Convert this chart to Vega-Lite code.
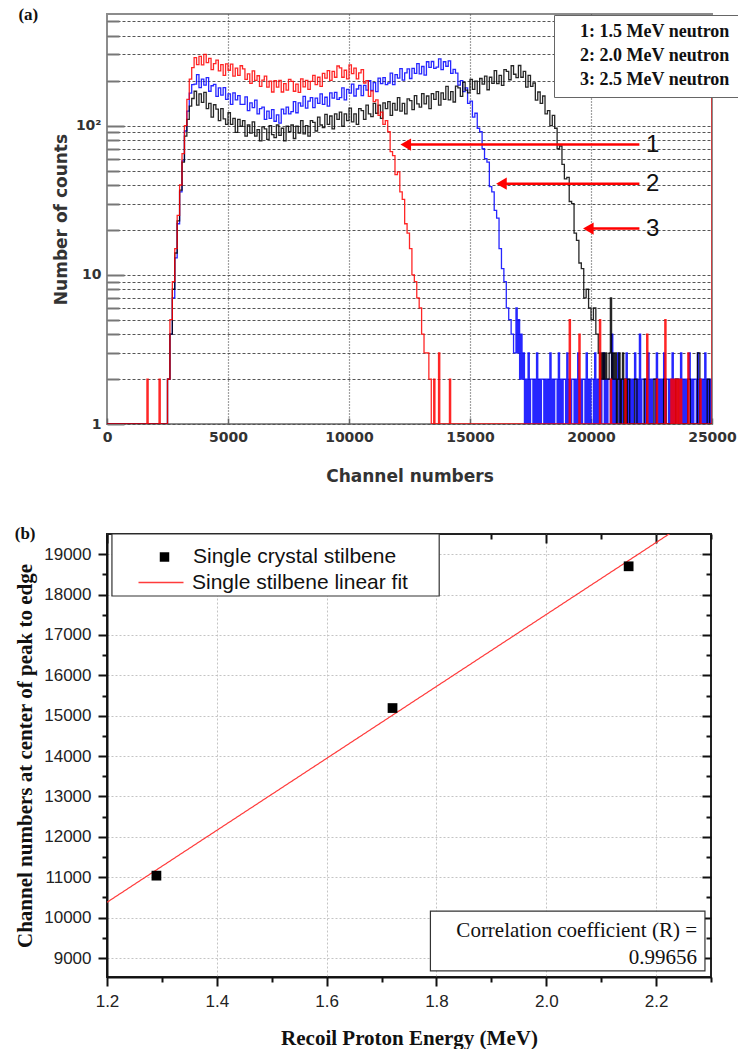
{
"$schema":"https://vega.github.io/schema/vega-lite/v6.json",
"background":"white",
"padding":{"left":13,"top":5,"right":0,"bottom":0},
"spacing":39,
"resolve":{"scale":{"color":"independent","strokeDash":"independent"},"legend":{"color":"independent","strokeDash":"independent"}},
"config":{"axis":{"labelOverlap":false,"labelFlush":false}},
"datasets":{
"spec":[
{"s":"2","c":0,"n":1},{"s":"2","c":2400,"n":1},{"s":"2","c":2500,"n":2},{"s":"2","c":2600,"n":4},{"s":"2","c":2700,"n":7},{"s":"2","c":2800,"n":13},{"s":"2","c":2900,"n":22},{"s":"2","c":3000,"n":36},{"s":"2","c":3100,"n":58},{"s":"2","c":3200,"n":92},{"s":"2","c":3300,"n":125},{"s":"2","c":3400,"n":165},{"s":"2","c":3500,"n":188},
{"s":"2","c":3600,"n":190},{"s":"2","c":3700,"n":220},{"s":"2","c":3800,"n":180},{"s":"2","c":3900,"n":205},{"s":"2","c":4000,"n":187},{"s":"2","c":4100,"n":210},{"s":"2","c":4200,"n":170},{"s":"2","c":4300,"n":185},{"s":"2","c":4400,"n":189},{"s":"2","c":4500,"n":157},{"s":"2","c":4600,"n":179},{"s":"2","c":4700,"n":160},{"s":"2","c":4800,"n":180},{"s":"2","c":4900,"n":150},{"s":"2","c":5000,"n":163},{"s":"2","c":5100,"n":139},{"s":"2","c":5200,"n":166},{"s":"2","c":5300,"n":149},{"s":"2","c":5400,"n":159},{"s":"2","c":5500,"n":139},{"s":"2","c":5600,"n":139},{"s":"2","c":5700,"n":156},{"s":"2","c":5800,"n":126},{"s":"2","c":5900,"n":142},{"s":"2","c":6000,"n":132},{"s":"2","c":6100,"n":148},{"s":"2","c":6200,"n":120},{"s":"2","c":6300,"n":130},{"s":"2","c":6400,"n":133},{"s":"2","c":6500,"n":110},{"s":"2","c":6600,"n":125},{"s":"2","c":6700,"n":112},{"s":"2","c":6800,"n":128},{"s":"2","c":6900,"n":107},{"s":"2","c":7000,"n":118},{"s":"2","c":7100,"n":104},{"s":"2","c":7200,"n":129},{"s":"2","c":7300,"n":120},{"s":"2","c":7400,"n":133},{"s":"2","c":7500,"n":120},{"s":"2","c":7600,"n":124},{"s":"2","c":7700,"n":145},{"s":"2","c":7800,"n":122},{"s":"2","c":7900,"n":142},{"s":"2","c":8000,"n":135},{"s":"2","c":8100,"n":157},{"s":"2","c":8200,"n":131},{"s":"2","c":8300,"n":146},{"s":"2","c":8400,"n":154},{"s":"2","c":8500,"n":132},{"s":"2","c":8600,"n":153},{"s":"2","c":8700,"n":141},{"s":"2","c":8800,"n":163},{"s":"2","c":8900,"n":139},{"s":"2","c":9000,"n":155},{"s":"2","c":9100,"n":135},{"s":"2","c":9200,"n":166},{"s":"2","c":9300,"n":153},{"s":"2","c":9400,"n":167},{"s":"2","c":9500,"n":150},{"s":"2","c":9600,"n":154},{"s":"2","c":9700,"n":179},{"s":"2","c":9800,"n":149},{"s":"2","c":9900,"n":175},{"s":"2","c":10000,"n":165},{"s":"2","c":10100,"n":190},{"s":"2","c":10200,"n":158},{"s":"2","c":10300,"n":176},{"s":"2","c":10400,"n":186},{"s":"2","c":10500,"n":159},{"s":"2","c":10600,"n":186},{"s":"2","c":10700,"n":173},{"s":"2","c":10800,"n":200},{"s":"2","c":10900,"n":172},{"s":"2","c":11000,"n":194},{"s":"2","c":11100,"n":169},{"s":"2","c":11200,"n":208},{"s":"2","c":11300,"n":191},{"s":"2","c":11400,"n":210},{"s":"2","c":11500,"n":188},{"s":"2","c":11600,"n":193},{"s":"2","c":11700,"n":225},{"s":"2","c":11800,"n":188},{"s":"2","c":11900,"n":220},{"s":"2","c":12000,"n":208},{"s":"2","c":12100,"n":241},{"s":"2","c":12200,"n":202},{"s":"2","c":12300,"n":226},{"s":"2","c":12400,"n":240},{"s":"2","c":12500,"n":207},{"s":"2","c":12600,"n":242},{"s":"2","c":12700,"n":224},{"s":"2","c":12800,"n":260},{"s":"2","c":12900,"n":222},{"s":"2","c":13000,"n":249},{"s":"2","c":13100,"n":218},{"s":"2","c":13200,"n":268},{"s":"2","c":13300,"n":246},{"s":"2","c":13400,"n":269},{"s":"2","c":13500,"n":242},{"s":"2","c":13600,"n":247},{"s":"2","c":13700,"n":280},{"s":"2","c":13800,"n":237},{"s":"2","c":13900,"n":268},{"s":"2","c":14000,"n":250},{"s":"2","c":14100,"n":272},{"s":"2","c":14200,"n":224},{"s":"2","c":14300,"n":238},{"s":"2","c":14400,"n":225},{"s":"2","c":14500,"n":187},{"s":"2","c":14600,"n":200},{"s":"2","c":14700,"n":169},{"s":"2","c":14800,"n":179},{"s":"2","c":14900,"n":141},{"s":"2","c":15000,"n":146},{"s":"2","c":15100,"n":114},{"s":"2","c":15200,"n":121},{"s":"2","c":15300,"n":96},{"s":"2","c":15400,"n":91},{"s":"2","c":15500,"n":70},{"s":"2","c":15600,"n":60},{"s":"2","c":15700,"n":57},{"s":"2","c":15800,"n":39},{"s":"2","c":15900,"n":36},{"s":"2","c":16000,"n":27},{"s":"2","c":16100,"n":24},{"s":"2","c":16200,"n":15},{"s":"2","c":16300,"n":11},{"s":"2","c":16400,"n":9},{"s":"2","c":16500,"n":6},{"s":"2","c":16600,"n":5},{"s":"2","c":16700,"n":4},{"s":"2","c":16800,"n":3},
{"s":"2","c":16900,"n":6},{"s":"2","c":16950,"n":3},{"s":"2","c":17000,"n":5},{"s":"2","c":17050,"n":2},{"s":"2","c":17100,"n":4},{"s":"2","c":17150,"n":2},{"s":"2","c":17200,"n":3},{"s":"2","c":17250,"n":1},{"s":"2","c":17300,"n":2},{"s":"2","c":17350,"n":1},{"s":"2","c":17400,"n":3},{"s":"2","c":17450,"n":1},{"s":"2","c":17500,"n":2},{"s":"2","c":17550,"n":2},{"s":"2","c":17600,"n":1},{"s":"2","c":17650,"n":2},{"s":"2","c":17700,"n":1},{"s":"2","c":17750,"n":3},{"s":"2","c":17800,"n":1},{"s":"2","c":17850,"n":2},
{"s":"2","c":17900,"n":1},{"s":"2","c":17950,"n":2},{"s":"2","c":18000,"n":2},{"s":"2","c":18050,"n":1},{"s":"2","c":18100,"n":2},{"s":"2","c":18150,"n":1},{"s":"2","c":18200,"n":2},{"s":"2","c":18250,"n":1},{"s":"2","c":18300,"n":3},{"s":"2","c":18350,"n":1},{"s":"2","c":18400,"n":2},{"s":"2","c":18450,"n":1},{"s":"2","c":18500,"n":2},{"s":"2","c":18550,"n":2},{"s":"2","c":18600,"n":1},{"s":"2","c":18650,"n":3},{"s":"2","c":18700,"n":1},{"s":"2","c":18750,"n":2},{"s":"2","c":18800,"n":1},{"s":"2","c":18850,"n":2},
{"s":"2","c":18900,"n":2},{"s":"2","c":18950,"n":1},{"s":"2","c":19000,"n":3},{"s":"2","c":19050,"n":1},{"s":"2","c":19100,"n":2},{"s":"2","c":19150,"n":1},{"s":"2","c":19200,"n":2},{"s":"2","c":19250,"n":2},{"s":"2","c":19300,"n":1},{"s":"2","c":19350,"n":2},{"s":"2","c":19400,"n":1},{"s":"2","c":19450,"n":3},{"s":"2","c":19500,"n":1},{"s":"2","c":19550,"n":2},{"s":"2","c":19600,"n":1},{"s":"2","c":19650,"n":2},{"s":"2","c":19700,"n":2},{"s":"2","c":19750,"n":1},{"s":"2","c":19800,"n":3},{"s":"2","c":19850,"n":1},
{"s":"2","c":19900,"n":2},{"s":"2","c":19950,"n":1},{"s":"2","c":20000,"n":2},{"s":"2","c":20050,"n":2},{"s":"2","c":20100,"n":1},{"s":"2","c":20150,"n":3},{"s":"2","c":20200,"n":1},{"s":"2","c":20250,"n":2},{"s":"2","c":20300,"n":1},{"s":"2","c":20350,"n":2},{"s":"2","c":20400,"n":1},{"s":"2","c":20450,"n":2},{"s":"2","c":20500,"n":3},{"s":"2","c":20550,"n":1},{"s":"2","c":20600,"n":2},{"s":"2","c":20650,"n":1},{"s":"2","c":20700,"n":2},{"s":"2","c":20750,"n":2},{"s":"2","c":20800,"n":1},{"s":"2","c":20850,"n":4},
{"s":"2","c":20900,"n":1},{"s":"2","c":20950,"n":2},{"s":"2","c":21000,"n":1},{"s":"2","c":21050,"n":2},{"s":"2","c":21100,"n":3},{"s":"2","c":21150,"n":1},{"s":"2","c":21200,"n":2},{"s":"2","c":21250,"n":1},{"s":"2","c":21300,"n":2},{"s":"2","c":21350,"n":2},{"s":"2","c":21400,"n":1},{"s":"2","c":21450,"n":3},{"s":"2","c":21500,"n":1},{"s":"2","c":21550,"n":2},{"s":"2","c":21600,"n":1},{"s":"2","c":21650,"n":2},{"s":"2","c":21700,"n":1},{"s":"2","c":21750,"n":2},{"s":"2","c":21800,"n":3},{"s":"2","c":21850,"n":1},
{"s":"2","c":21900,"n":2},{"s":"2","c":21950,"n":1},{"s":"2","c":22000,"n":4},{"s":"2","c":22050,"n":1},{"s":"2","c":22100,"n":2},{"s":"2","c":22150,"n":2},{"s":"2","c":22200,"n":1},{"s":"2","c":22250,"n":2},{"s":"2","c":22300,"n":1},{"s":"2","c":22350,"n":3},{"s":"2","c":22400,"n":1},{"s":"2","c":22450,"n":2},{"s":"2","c":22500,"n":1},{"s":"2","c":22550,"n":2},{"s":"2","c":22600,"n":2},{"s":"2","c":22650,"n":1},{"s":"2","c":22700,"n":3},{"s":"2","c":22750,"n":1},{"s":"2","c":22800,"n":2},{"s":"2","c":22850,"n":1},
{"s":"2","c":22900,"n":2},{"s":"2","c":22950,"n":1},{"s":"2","c":23000,"n":3},{"s":"2","c":23050,"n":1},{"s":"2","c":23100,"n":2},{"s":"2","c":23150,"n":2},{"s":"2","c":23200,"n":1},{"s":"2","c":23250,"n":2},{"s":"2","c":23300,"n":1},{"s":"2","c":23350,"n":3},{"s":"2","c":23400,"n":1},{"s":"2","c":23450,"n":2},{"s":"2","c":23500,"n":1},{"s":"2","c":23550,"n":2},{"s":"2","c":23600,"n":2},{"s":"2","c":23650,"n":1},{"s":"2","c":23700,"n":3},{"s":"2","c":23750,"n":1},{"s":"2","c":23800,"n":2},{"s":"2","c":23850,"n":1},
{"s":"2","c":23900,"n":2},{"s":"2","c":23950,"n":1},{"s":"2","c":24000,"n":2},{"s":"2","c":24050,"n":3},{"s":"2","c":24100,"n":1},{"s":"2","c":24150,"n":2},{"s":"2","c":24200,"n":1},{"s":"2","c":24250,"n":2},{"s":"2","c":24300,"n":2},{"s":"2","c":24350,"n":1},{"s":"2","c":24400,"n":3},{"s":"2","c":24450,"n":1},{"s":"2","c":24500,"n":2},{"s":"2","c":24550,"n":1},{"s":"2","c":24600,"n":2},{"s":"2","c":24650,"n":1},{"s":"2","c":24700,"n":3},{"s":"2","c":24750,"n":1},{"s":"2","c":24800,"n":2},{"s":"2","c":24850,"n":1},{"s":"2","c":24900,"n":2},{"s":"2","c":24950,"n":1},{"s":"2","c":25000,"n":1},
{"s":"3","c":0,"n":1},{"s":"3","c":2400,"n":1},{"s":"3","c":2500,"n":2},{"s":"3","c":2600,"n":4},{"s":"3","c":2700,"n":8},{"s":"3","c":2800,"n":14},{"s":"3","c":2900,"n":23},{"s":"3","c":3000,"n":37},{"s":"3","c":3100,"n":57},{"s":"3","c":3200,"n":85},{"s":"3","c":3300,"n":110},{"s":"3","c":3400,"n":135},{"s":"3","c":3500,"n":152},
{"s":"3","c":3600,"n":170},{"s":"3","c":3700,"n":137},{"s":"3","c":3800,"n":163},{"s":"3","c":3900,"n":143},{"s":"3","c":4000,"n":167},{"s":"3","c":4100,"n":130},{"s":"3","c":4200,"n":141},{"s":"3","c":4300,"n":114},{"s":"3","c":4400,"n":138},{"s":"3","c":4500,"n":129},{"s":"3","c":4600,"n":108},{"s":"3","c":4700,"n":130},{"s":"3","c":4800,"n":111},{"s":"3","c":4900,"n":102},{"s":"3","c":5000,"n":122},{"s":"3","c":5100,"n":102},{"s":"3","c":5200,"n":112},{"s":"3","c":5300,"n":90},{"s":"3","c":5400,"n":110},{"s":"3","c":5500,"n":99},{"s":"3","c":5600,"n":108},{"s":"3","c":5700,"n":85},{"s":"3","c":5800,"n":101},{"s":"3","c":5900,"n":89},{"s":"3","c":6000,"n":106},{"s":"3","c":6100,"n":85},{"s":"3","c":6200,"n":94},{"s":"3","c":6300,"n":79},{"s":"3","c":6400,"n":98},{"s":"3","c":6500,"n":95},{"s":"3","c":6600,"n":81},{"s":"3","c":6700,"n":100},{"s":"3","c":6800,"n":87},{"s":"3","c":6900,"n":83},{"s":"3","c":7000,"n":101},{"s":"3","c":7100,"n":86},{"s":"3","c":7200,"n":96},{"s":"3","c":7300,"n":79},{"s":"3","c":7400,"n":99},{"s":"3","c":7500,"n":91},{"s":"3","c":7600,"n":101},{"s":"3","c":7700,"n":82},{"s":"3","c":7800,"n":99},{"s":"3","c":7900,"n":89},{"s":"3","c":8000,"n":108},{"s":"3","c":8100,"n":88},{"s":"3","c":8200,"n":100},{"s":"3","c":8300,"n":85},{"s":"3","c":8400,"n":108},{"s":"3","c":8500,"n":105},{"s":"3","c":8600,"n":92},{"s":"3","c":8700,"n":114},{"s":"3","c":8800,"n":101},{"s":"3","c":8900,"n":97},{"s":"3","c":9000,"n":119},{"s":"3","c":9100,"n":102},{"s":"3","c":9200,"n":116},{"s":"3","c":9300,"n":95},{"s":"3","c":9400,"n":120},{"s":"3","c":9500,"n":110},{"s":"3","c":9600,"n":123},{"s":"3","c":9700,"n":99},{"s":"3","c":9800,"n":120},{"s":"3","c":9900,"n":108},{"s":"3","c":10000,"n":131},{"s":"3","c":10100,"n":106},{"s":"3","c":10200,"n":120},{"s":"3","c":10300,"n":102},{"s":"3","c":10400,"n":130},{"s":"3","c":10500,"n":126},{"s":"3","c":10600,"n":110},{"s":"3","c":10700,"n":137},{"s":"3","c":10800,"n":120},{"s":"3","c":10900,"n":115},{"s":"3","c":11000,"n":141},{"s":"3","c":11100,"n":121},{"s":"3","c":11200,"n":137},{"s":"3","c":11300,"n":112},{"s":"3","c":11400,"n":142},{"s":"3","c":11500,"n":130},{"s":"3","c":11600,"n":145},{"s":"3","c":11700,"n":117},{"s":"3","c":11800,"n":141},{"s":"3","c":11900,"n":127},{"s":"3","c":12000,"n":154},{"s":"3","c":12100,"n":125},{"s":"3","c":12200,"n":141},{"s":"3","c":12300,"n":120},{"s":"3","c":12400,"n":151},{"s":"3","c":12500,"n":147},{"s":"3","c":12600,"n":128},{"s":"3","c":12700,"n":159},{"s":"3","c":12800,"n":140},{"s":"3","c":12900,"n":133},{"s":"3","c":13000,"n":164},{"s":"3","c":13100,"n":140},{"s":"3","c":13200,"n":158},{"s":"3","c":13300,"n":130},{"s":"3","c":13400,"n":164},{"s":"3","c":13500,"n":150},{"s":"3","c":13600,"n":169},{"s":"3","c":13700,"n":137},{"s":"3","c":13800,"n":166},{"s":"3","c":13900,"n":150},{"s":"3","c":14000,"n":183},{"s":"3","c":14100,"n":149},{"s":"3","c":14200,"n":169},{"s":"3","c":14300,"n":144},{"s":"3","c":14400,"n":184},{"s":"3","c":14500,"n":179},{"s":"3","c":14600,"n":157},{"s":"3","c":14700,"n":195},{"s":"3","c":14800,"n":173},{"s":"3","c":14900,"n":166},{"s":"3","c":15000,"n":204},{"s":"3","c":15100,"n":175},{"s":"3","c":15200,"n":199},{"s":"3","c":15300,"n":164},{"s":"3","c":15400,"n":207},{"s":"3","c":15500,"n":190},{"s":"3","c":15600,"n":215},{"s":"3","c":15700,"n":174},{"s":"3","c":15800,"n":211},{"s":"3","c":15900,"n":192},{"s":"3","c":16000,"n":234},{"s":"3","c":16100,"n":191},{"s":"3","c":16200,"n":217},{"s":"3","c":16300,"n":186},{"s":"3","c":16400,"n":237},{"s":"3","c":16500,"n":231},{"s":"3","c":16600,"n":203},{"s":"3","c":16700,"n":252},{"s":"3","c":16800,"n":221},{"s":"3","c":16900,"n":210},{"s":"3","c":17000,"n":253},{"s":"3","c":17100,"n":211},{"s":"3","c":17200,"n":231},{"s":"3","c":17300,"n":181},{"s":"3","c":17400,"n":217},{"s":"3","c":17500,"n":183},{"s":"3","c":17600,"n":193},{"s":"3","c":17700,"n":148},{"s":"3","c":17800,"n":168},{"s":"3","c":17900,"n":141},{"s":"3","c":18000,"n":158},{"s":"3","c":18100,"n":120},{"s":"3","c":18200,"n":126},{"s":"3","c":18300,"n":100},{"s":"3","c":18400,"n":117},{"s":"3","c":18500,"n":96},{"s":"3","c":18600,"n":70},{"s":"3","c":18700,"n":73},{"s":"3","c":18800,"n":55},{"s":"3","c":18900,"n":44},{"s":"3","c":19000,"n":45},{"s":"3","c":19100,"n":31},{"s":"3","c":19200,"n":30},{"s":"3","c":19300,"n":19},{"s":"3","c":19400,"n":17},{"s":"3","c":19500,"n":12},{"s":"3","c":19600,"n":11},{"s":"3","c":19700,"n":7},{"s":"3","c":19800,"n":8},{"s":"3","c":19900,"n":6},{"s":"3","c":20000,"n":5},{"s":"3","c":20100,"n":6},{"s":"3","c":20200,"n":4},
{"s":"3","c":20300,"n":3},{"s":"3","c":20350,"n":2},{"s":"3","c":20400,"n":3},{"s":"3","c":20450,"n":2},{"s":"3","c":20500,"n":3},{"s":"3","c":20550,"n":2},{"s":"3","c":20600,"n":3},{"s":"3","c":20650,"n":2},{"s":"3","c":20700,"n":2},{"s":"3","c":20750,"n":3},{"s":"3","c":20800,"n":7},{"s":"3","c":20850,"n":2},{"s":"3","c":20900,"n":3},{"s":"3","c":20950,"n":2},{"s":"3","c":21000,"n":3},{"s":"3","c":21050,"n":1},{"s":"3","c":21100,"n":2},{"s":"3","c":21150,"n":3},{"s":"3","c":21200,"n":1},{"s":"3","c":21250,"n":2},{"s":"3","c":21300,"n":3},{"s":"3","c":21350,"n":1},{"s":"3","c":21400,"n":2},{"s":"3","c":21450,"n":1},{"s":"3","c":21500,"n":2},{"s":"3","c":21600,"n":1},{"s":"3","c":21800,"n":2},{"s":"3","c":21900,"n":1},{"s":"3","c":22200,"n":2},{"s":"3","c":22300,"n":1},{"s":"3","c":22600,"n":2},{"s":"3","c":22700,"n":1},{"s":"3","c":23000,"n":2},{"s":"3","c":23100,"n":1},{"s":"3","c":23500,"n":2},{"s":"3","c":23600,"n":1},{"s":"3","c":24000,"n":2},{"s":"3","c":24100,"n":1},{"s":"3","c":24400,"n":3},{"s":"3","c":24500,"n":1},{"s":"3","c":24800,"n":2},{"s":"3","c":24900,"n":1},{"s":"3","c":25000,"n":1},
{"s":"1","c":0,"n":1},{"s":"1","c":1650,"n":2},{"s":"1","c":1700,"n":1},{"s":"1","c":2150,"n":2},{"s":"1","c":2200,"n":1},{"s":"1","c":2500,"n":2},{"s":"1","c":2600,"n":5},{"s":"1","c":2700,"n":9},{"s":"1","c":2800,"n":15},{"s":"1","c":2900,"n":25},{"s":"1","c":3000,"n":40},{"s":"1","c":3100,"n":65},{"s":"1","c":3200,"n":100},{"s":"1","c":3300,"n":150},{"s":"1","c":3400,"n":205},{"s":"1","c":3500,"n":245},
{"s":"1","c":3600,"n":286},{"s":"1","c":3700,"n":256},{"s":"1","c":3800,"n":291},{"s":"1","c":3900,"n":255},{"s":"1","c":4000,"n":300},{"s":"1","c":4100,"n":264},{"s":"1","c":4200,"n":282},{"s":"1","c":4300,"n":237},{"s":"1","c":4400,"n":260},{"s":"1","c":4500,"n":275},{"s":"1","c":4600,"n":233},{"s":"1","c":4700,"n":256},{"s":"1","c":4800,"n":217},{"s":"1","c":4900,"n":259},{"s":"1","c":5000,"n":235},{"s":"1","c":5100,"n":258},{"s":"1","c":5200,"n":215},{"s":"1","c":5300,"n":243},{"s":"1","c":5400,"n":217},{"s":"1","c":5500,"n":252},{"s":"1","c":5600,"n":240},{"s":"1","c":5700,"n":204},{"s":"1","c":5800,"n":222},{"s":"1","c":5900,"n":192},{"s":"1","c":6000,"n":233},{"s":"1","c":6100,"n":201},{"s":"1","c":6200,"n":216},{"s":"1","c":6300,"n":183},{"s":"1","c":6400,"n":202},{"s":"1","c":6500,"n":215},{"s":"1","c":6600,"n":181},{"s":"1","c":6700,"n":199},{"s":"1","c":6800,"n":168},{"s":"1","c":6900,"n":200},{"s":"1","c":7000,"n":181},{"s":"1","c":7100,"n":201},{"s":"1","c":7200,"n":168},{"s":"1","c":7300,"n":191},{"s":"1","c":7400,"n":173},{"s":"1","c":7500,"n":204},{"s":"1","c":7600,"n":198},{"s":"1","c":7700,"n":170},{"s":"1","c":7800,"n":190},{"s":"1","c":7900,"n":167},{"s":"1","c":8000,"n":206},{"s":"1","c":8100,"n":182},{"s":"1","c":8200,"n":201},{"s":"1","c":8300,"n":175},{"s":"1","c":8400,"n":198},{"s":"1","c":8500,"n":217},{"s":"1","c":8600,"n":188},{"s":"1","c":8700,"n":211},{"s":"1","c":8800,"n":183},{"s":"1","c":8900,"n":224},{"s":"1","c":9000,"n":208},{"s":"1","c":9100,"n":234},{"s":"1","c":9200,"n":201},{"s":"1","c":9300,"n":231},{"s":"1","c":9400,"n":211},{"s":"1","c":9500,"n":251},{"s":"1","c":9600,"n":244},{"s":"1","c":9700,"n":211},{"s":"1","c":9800,"n":235},{"s":"1","c":9900,"n":206},{"s":"1","c":10000,"n":255},{"s":"1","c":10100,"n":223},{"s":"1","c":10200,"n":243},{"s":"1","c":10300,"n":206},{"s":"1","c":10400,"n":226},{"s":"1","c":10500,"n":237},{"s":"1","c":10600,"n":193},{"s":"1","c":10700,"n":200},{"s":"1","c":10800,"n":157},{"s":"1","c":10900,"n":171},{"s":"1","c":11000,"n":145},{"s":"1","c":11100,"n":149},{"s":"1","c":11200,"n":117},{"s":"1","c":11300,"n":123},{"s":"1","c":11400,"n":102},{"s":"1","c":11500,"n":108},{"s":"1","c":11600,"n":91},{"s":"1","c":11700,"n":67},{"s":"1","c":11800,"n":63},{"s":"1","c":11900,"n":47},{"s":"1","c":12000,"n":49},{"s":"1","c":12100,"n":36},{"s":"1","c":12200,"n":32},{"s":"1","c":12300,"n":22},{"s":"1","c":12400,"n":19},{"s":"1","c":12500,"n":15},{"s":"1","c":12600,"n":10},{"s":"1","c":12700,"n":9},{"s":"1","c":12800,"n":7},{"s":"1","c":12900,"n":6},{"s":"1","c":13000,"n":4},{"s":"1","c":13100,"n":3},{"s":"1","c":13200,"n":3},{"s":"1","c":13300,"n":2},{"s":"1","c":13400,"n":1},{"s":"1","c":13500,"n":2},{"s":"1","c":13550,"n":1},{"s":"1","c":13700,"n":3},{"s":"1","c":13750,"n":1},{"s":"1","c":14150,"n":2},{"s":"1","c":14200,"n":1},{"s":"1","c":19100,"n":5},{"s":"1","c":19150,"n":1},{"s":"1","c":19500,"n":4},{"s":"1","c":19550,"n":1},{"s":"1","c":20350,"n":5},{"s":"1","c":20400,"n":1},{"s":"1","c":20800,"n":2},{"s":"1","c":20850,"n":1},{"s":"1","c":21400,"n":2},{"s":"1","c":21450,"n":1},{"s":"1","c":22300,"n":4},{"s":"1","c":22350,"n":1},{"s":"1","c":22700,"n":2},{"s":"1","c":22750,"n":1},{"s":"1","c":23050,"n":5},{"s":"1","c":23100,"n":1},{"s":"1","c":23300,"n":2},{"s":"1","c":23350,"n":1},{"s":"1","c":23400,"n":2},{"s":"1","c":23450,"n":1},{"s":"1","c":23500,"n":2},{"s":"1","c":23550,"n":1},{"s":"1","c":23600,"n":2},{"s":"1","c":23650,"n":1},{"s":"1","c":23700,"n":2},{"s":"1","c":23750,"n":1},{"s":"1","c":24000,"n":3},{"s":"1","c":24050,"n":1},{"s":"1","c":24500,"n":2},{"s":"1","c":24550,"n":1},{"s":"1","c":25000,"n":175}
],
"arrows":[
{"lab":"1","y":74.6,"hx":12345,"x2":22000,"tx":22550},
{"lab":"2","y":40.8,"hx":16300,"x2":22000,"tx":22550},
{"lab":"3","y":20.4,"hx":19890,"x2":22000,"tx":22550}
],
"pts":[
{"e":1.29,"v":11040,"series":"Single crystal stilbene"},
{"e":1.72,"v":15190,"series":"Single crystal stilbene"},
{"e":2.15,"v":18700,"series":"Single crystal stilbene"}
],
"fit":[
{"e":1.2,"v":10380,"fitname":"Single stilbene linear fit"},
{"e":2.3,"v":20180,"fitname":"Single stilbene linear fit"}
],
"boxes":[
{"x1":1.209,"x2":1.805,"y1":19500,"y2":17965},
{"x1":1.789,"x2":2.289,"y1":10160,"y2":8680}
],
"corr":[
{"tx":2.2745,"ty":9670,"t":["Correlation coefficient (R) =","0.99656"]}
]
},
"vconcat":[
{
"width":605,"height":410,
"view":{"stroke":"#8c8c8c","strokeWidth":2},
"title":{"text":"(a)","anchor":"start","frame":"bounds","offset":-10,"dx":-34,"font":"Liberation Serif","fontSize":17,"fontWeight":"bold","color":"#111"},
"layer":[
{"data":{"name":"spec"},
"mark":{"type":"line","interpolate":"step-after","strokeWidth":1.3,"opacity":0.85,"clip":true},
"encoding":{
"x":{"field":"c","type":"quantitative","title":"Channel numbers","scale":{"domain":[0,25000],"nice":false,"zero":false},
"axis":{"values":[0,5000,10000,15000,20000,25000],
"format":"d",
"grid":true,"gridDash":[1,2],"gridColor":"#444","gridWidth":1.2,
"gridOpacity":{"condition":{"test":"datum.value > 0 && datum.value < 25000","value":1},"value":0},
"domain":false,"tickSize":-6,"tickColor":"#666","tickWidth":1.5,
"labelFont":"DejaVu Sans","labelFontWeight":"bold","labelFontSize":14,"labelColor":"#333","labelPadding":12,"labelFlush":false,"labelOverlap":false,
"titleFont":"DejaVu Sans","titleFontWeight":"bold","titleFontSize":17,"titleColor":"#333","titlePadding":24}},
"y":{"field":"n","type":"quantitative","title":"Number of counts","scale":{"type":"log","domain":[1,560],"nice":false},
"axis":{"values":[1,2,3,4,5,6,7,8,9,10,20,30,40,50,60,70,80,90,100,200,300,400,500],
"labelExpr":"datum.value == 1 ? '1' : datum.value == 10 ? '10' : datum.value == 100 ? '10²' : ''",
"grid":true,"gridDash":[3,2],"gridColor":"#555","gridWidth":1,
"domain":false,
"tickSize":{"condition":{"test":"datum.value == 1 || datum.value == 10 || datum.value == 100","value":-17},"value":-12},
"tickColor":"#777","tickWidth":2,
"labelFont":"DejaVu Sans","labelFontWeight":"bold","labelFontSize":14,"labelColor":"#333","labelPadding":23,"labelFlush":false,"labelOverlap":false,
"titleFont":"DejaVu Sans","titleFontWeight":"bold","titleFontSize":17,"titleColor":"#333","titlePadding":5}},
"color":{"field":"s","type":"nominal","scale":{"domain":["1","2","3"],"range":["#ff0000","#0000ff","#000000"]},
"legend":{"orient":"none","legendX":447,"legendY":1,"title":null,
"labelExpr":"datum.value == '1' ? '1: 1.5 MeV neutron' : datum.value == '2' ? '2: 2.0 MeV neutron' : '3: 2.5 MeV neutron'",
"labelFont":"Liberation Serif","labelFontWeight":"bold","labelFontSize":18,"labelColor":"#111","labelLimit":400,
"symbolSize":0,"symbolStrokeWidth":0,"symbolOpacity":0,"labelOffset":0,
"padding":8,"rowPadding":6,"strokeColor":"#666","fillColor":"white"}}
}},
{"data":{"name":"arrows"},
"mark":{"type":"rule","color":"#ff0000","strokeWidth":2.5},
"encoding":{"x":{"field":"hx","type":"quantitative","title":"Channel numbers"},"x2":{"field":"x2"},"y":{"field":"y","type":"quantitative","title":"Number of counts"}}},
{"data":{"name":"arrows"},
"mark":{"type":"point","shape":"triangle-left","filled":true,"color":"#ff0000","size":150,"opacity":1},
"encoding":{"x":{"field":"hx","type":"quantitative","title":"Channel numbers"},"y":{"field":"y","type":"quantitative","title":"Number of counts"}}},
{"data":{"name":"arrows"},
"mark":{"type":"text","font":"Liberation Sans","fontSize":24,"color":"#111","align":"center","baseline":"middle"},
"encoding":{"x":{"field":"tx","type":"quantitative","title":"Channel numbers"},"y":{"field":"y","type":"quantitative","title":"Number of counts"},"text":{"field":"lab"}}}
]
},
{
"width":604,"height":443,
"view":{"stroke":"#222","strokeWidth":2},
"title":{"text":"(b)","anchor":"start","frame":"bounds","offset":-10,"dx":0,"font":"Liberation Serif","fontSize":17,"fontWeight":"bold","color":"#111"},
"resolve":{"axis":{"x":"independent","y":"independent"}},
"layer":[
{"data":{"name":"boxes"},
"mark":{"type":"rect","fill":"white","stroke":"#333","strokeWidth":1.2},
"encoding":{"x":{"field":"x1","type":"quantitative","axis":null,"scale":{"domain":[1.2,2.3],"nice":false,"zero":false}},"x2":{"field":"x2"},
"y":{"field":"y1","type":"quantitative","axis":null,"scale":{"domain":[8530,19500],"nice":false,"zero":false}},"y2":{"field":"y2"}}},
{"data":{"name":"corr"},
"mark":{"type":"text","font":"Liberation Serif","fontSize":21,"color":"#111","align":"right","baseline":"middle","lineHeight":27},
"encoding":{"x":{"field":"tx","type":"quantitative","axis":null},"y":{"field":"ty","type":"quantitative","axis":null},"text":{"field":"t"}}},
{"data":{"name":"fit"},
"mark":{"type":"line","strokeWidth":1.2,"clip":true,"color":"#ff3b3b"},
"encoding":{
"x":{"field":"e","type":"quantitative","axis":{"orient":"top","values":[1.2,1.3,1.4,1.5,1.6,1.7,1.8,1.9,2.0,2.1,2.2,2.3],"labels":false,"title":null,"domain":false,"grid":false,"tickColor":"#111","tickWidth":2,
"tickSize":{"condition":{"test":"round(datum.value*10) % 2 == 0","value":-9},"value":-5}}},
"y":{"field":"v","type":"quantitative","axis":{"orient":"right","values":[9000,9500,10000,10500,11000,11500,12000,12500,13000,13500,14000,14500,15000,15500,16000,16500,17000,17500,18000,18500,19000],"labels":false,"title":null,"domain":false,"grid":false,"tickColor":"#111","tickWidth":2,
"tickSize":{"condition":{"test":"datum.value % 1000 == 0","value":-9},"value":-5}}},
"strokeDash":{"field":"fitname","type":"nominal","scale":{"domain":["Single stilbene linear fit"],"range":[[1,0]]},
"legend":{"orient":"none","legendX":43,"legendY":37.5,"title":null,
"symbolType":"M-2.25,0H2.25","symbolSize":400,"symbolStrokeColor":"#ff3b3b","symbolStrokeWidth":1.3,
"labelFont":"Liberation Sans","labelFontSize":21,"labelColor":"#111","labelLimit":400,"labelOffset":20,"padding":0}}}},
{"data":{"name":"pts"},
"mark":{"type":"point","shape":"square","filled":true,"size":95,"opacity":1},
"encoding":{
"x":{"field":"e","type":"quantitative","title":"Recoil Proton Energy (MeV)",
"axis":{"orient":"bottom","values":[1.2,1.3,1.4,1.5,1.6,1.7,1.8,1.9,2.0,2.1,2.2,2.3],
"labelExpr":"round(datum.value*10) % 2 == 0 && datum.value < 2.25 ? format(datum.value, '.1f') : ''",
"tickSize":{"condition":{"test":"round(datum.value*10) % 2 == 0","value":9},"value":5},"tickWidth":2,"tickColor":"#111",
"domain":true,"domainColor":"#111","domainWidth":2,
"grid":true,"gridColor":"#c4c4c4","gridDash":[2,2],
"gridOpacity":{"condition":{"test":"round(datum.value*10) % 2 == 0","value":1},"value":0},
"labelFont":"Liberation Sans","labelFontSize":17,"labelColor":"#222","labelPadding":7,"labelFlush":false,"labelOverlap":false,
"titleFont":"Liberation Serif","titleFontSize":21,"titleFontWeight":"bold","titleColor":"#111","titlePadding":18}},
"y":{"field":"v","type":"quantitative","title":"Channel numbers at center of peak to edge",
"axis":{"orient":"left","values":[9000,9500,10000,10500,11000,11500,12000,12500,13000,13500,14000,14500,15000,15500,16000,16500,17000,17500,18000,18500,19000],
"format":"d","labelExpr":"datum.value % 1000 == 0 ? datum.label : ''",
"tickSize":{"condition":{"test":"datum.value % 1000 == 0","value":9},"value":5},"tickWidth":2,"tickColor":"#111",
"domain":true,"domainColor":"#111","domainWidth":2,
"grid":true,"gridColor":"#c4c4c4","gridDash":[2,2],
"gridOpacity":{"condition":{"test":"datum.value % 1000 == 0","value":1},"value":0},
"labelFont":"Liberation Sans","labelFontSize":17,"labelColor":"#222","labelPadding":7,"labelFlush":false,"labelOverlap":false,
"titleFont":"Liberation Serif","titleFontSize":21,"titleFontWeight":"bold","titleColor":"#111","titlePadding":8}},
"color":{"field":"series","type":"nominal","scale":{"domain":["Single crystal stilbene"],"range":["#000000"]},
"legend":{"orient":"none","legendX":47,"legendY":12.5,"title":null,
"symbolType":"square","symbolSize":90,
"labelFont":"Liberation Sans","labelFontSize":21,"labelColor":"#111","labelLimit":400,"labelOffset":18,"padding":0}}
}}
]
}
]
}
